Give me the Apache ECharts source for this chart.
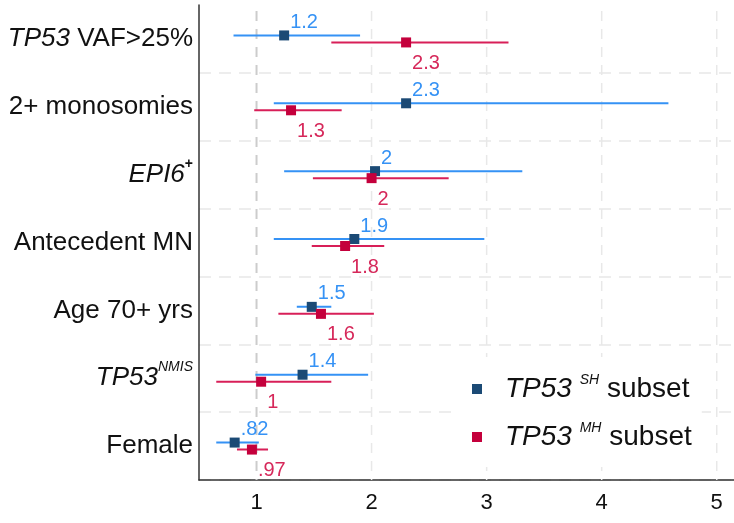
<!DOCTYPE html>
<html>
<head>
<meta charset="utf-8">
<script src="https://cdn.jsdelivr.net/npm/echarts@6/dist/echarts.min.js"></script>
<style>
  html, body { margin: 0; padding: 0; background: #fff; }
  #chart { width: 734px; height: 523px; }
</style>
</head>
<body>
<div id="chart"></div>
<script>
// odds ratios with 95% CI
var categories = ['TP53 VAF>25%', '2+ monosomies', 'EPI6+', 'Antecedent MN', 'Age 70+ yrs', 'TP53 NMIS', 'Female'];

var shOR     = [1.24, 2.30, 2.03, 1.85, 1.48, 1.40, 0.81];
var shLow    = [0.80, 1.15, 1.24, 1.15, 1.35, 0.99, 0.65];
var shHigh   = [1.90, 4.58, 3.31, 2.98, 1.65, 1.97, 1.02];
var shLabels = ['1.2', '2.3', '2', '1.9', '1.5', '1.4', '.82'];

var mhOR     = [2.30, 1.30, 2.00, 1.77, 1.56, 1.04, 0.96];
var mhLow    = [1.65, 0.98, 1.49, 1.48, 1.19, 0.65, 0.83];
var mhHigh   = [3.19, 1.74, 2.67, 2.11, 2.02, 1.65, 1.10];
var mhLabels = ['2.3', '1.3', '2', '1.8', '1.6', '1', '.97'];

var xTicks = [1, 2, 3, 4, 5];

var FONT = 'Liberation Sans, Arial, sans-serif';

// y labels with italics / superscripts
var richNames = {
  'TP53 VAF>25%': '{i|TP53} VAF>25%',
  'EPI6+': '{i|EPI6}{sp|+}',
  'TP53 NMIS': '{i|TP53}{isp|NMIS}'
};

function ciSeries(name, low, high, color, dy) {
  return {
    type: 'custom',
    name: name,
    silent: true,
    z: 2,
    data: low.map(function (l, i) { return [l, high[i], i]; }),
    encode: { x: [0, 1], y: 2 },
    renderItem: function (params, api) {
      var a = api.coord([api.value(0), api.value(2)]);
      var b = api.coord([api.value(1), api.value(2)]);
      return {
        type: 'line',
        shape: { x1: a[0], y1: a[1] + dy, x2: b[0], y2: b[1] + dy },
        style: { stroke: color, lineWidth: 2 }
      };
    }
  };
}

function pointSeries(name, vals, labels, color, labelColor, dy, labelDy) {
  return {
    type: 'scatter',
    name: name,
    silent: true,
    z: 3,
    symbol: 'rect',
    symbolSize: 10,
    symbolOffset: [0, dy],
    itemStyle: { color: color, opacity: 1 },
    data: vals.map(function (v, i) { return [v, i]; }),
    label: {
      show: true,
      position: 'right',
      distance: 1,
      offset: [0, labelDy],
      color: labelColor,
      fontSize: 20,
      fontFamily: FONT,
      formatter: function (p) { return labels[p.dataIndex]; }
    }
  };
}

var chart = echarts.init(document.getElementById('chart'));

chart.setOption({
  animation: false,
  textStyle: { fontFamily: FONT },
  grid: { left: 199, right: 0, top: 5, bottom: 43 },
  xAxis: {
    type: 'value',
    min: 0.5,
    max: 5.15,
    axisLine: { show: true, lineStyle: { color: '#333', width: 1.5 } },
    axisTick: { show: false },
    splitLine: { show: false },
    axisLabel: {
      customValues: xTicks,
      fontSize: 22,
      color: '#111',
      margin: 12,
      fontFamily: FONT
    }
  },
  yAxis: {
    type: 'category',
    data: categories,
    inverse: true,
    axisLine: { show: true, lineStyle: { color: '#333', width: 1.5 } },
    axisTick: { show: false },
    splitLine: {
      show: true,
      interval: function (i) { return i !== 0; },
      lineStyle: { color: '#e8e8e8', width: 1.5, type: [12, 8] }
    },
    axisLabel: {
      margin: 6,
      fontSize: 26,
      lineHeight: 36,
      color: '#111',
      fontFamily: FONT,
      formatter: function (v) { return richNames[v] || v; },
      rich: {
        i: { fontStyle: 'italic', fontSize: 26, lineHeight: 36, color: '#111', fontFamily: FONT },
        sp: { fontSize: 14, fontWeight: 'bold', lineHeight: 14, verticalAlign: 'top', color: '#111', fontFamily: FONT },
        isp: { fontStyle: 'italic', fontSize: 14, lineHeight: 14, verticalAlign: 'top', color: '#111', fontFamily: FONT }
      }
    }
  },
  legend: {
    orient: 'vertical',
    left: 455,
    top: 357,
    backgroundColor: '#fff',
    padding: [16, 10, 14, 17],
    itemGap: 16,
    itemWidth: 10,
    itemHeight: 10,
    icon: 'rect',
    data: ['SH', 'MH'],
    formatter: function (n) { return '{i|TP53} {sp|' + n + '} subset'; },
    textStyle: {
      fontSize: 28,
      lineHeight: 32,
      color: '#111',
      padding: [0, 0, 0, 18],
      fontFamily: FONT,
      rich: {
        i: { fontStyle: 'italic', fontSize: 28, lineHeight: 32, color: '#111', fontFamily: FONT },
        sp: { fontStyle: 'italic', fontSize: 14, lineHeight: 14, verticalAlign: 'top', color: '#111', fontFamily: FONT }
      }
    }
  },
  series: [
    // vertical grid lines, x = 1 is the reference line
    {
      type: 'custom',
      name: 'grid',
      silent: true,
      z: 1,
      data: xTicks.map(function (t) { return [t, 0]; }),
      encode: { x: 0 },
      renderItem: function (params, api) {
        var cs = params.coordSys;
        var x = api.coord([api.value(0), 0])[0];
        var ref = api.value(0) === 1;
        return {
          type: 'line',
          shape: { x1: x, y1: cs.y + 6, x2: x, y2: cs.y + cs.height },
          style: { stroke: ref ? '#cccccc' : '#e8e8e8', lineWidth: ref ? 2 : 1.5, lineDash: [10, 8] }
        };
      }
    },
    ciSeries('SH ci', shLow, shHigh, '#3592f5', -3.5),
    pointSeries('SH', shOR, shLabels, '#1b4a75', '#3592f5', -3.5, -13),
    ciSeries('MH ci', mhLow, mhHigh, '#d81f58', 3.5),
    pointSeries('MH', mhOR, mhLabels, '#c4003c', '#d6285a', 3.5, 21)
  ]
});
</script>
</body>
</html>
